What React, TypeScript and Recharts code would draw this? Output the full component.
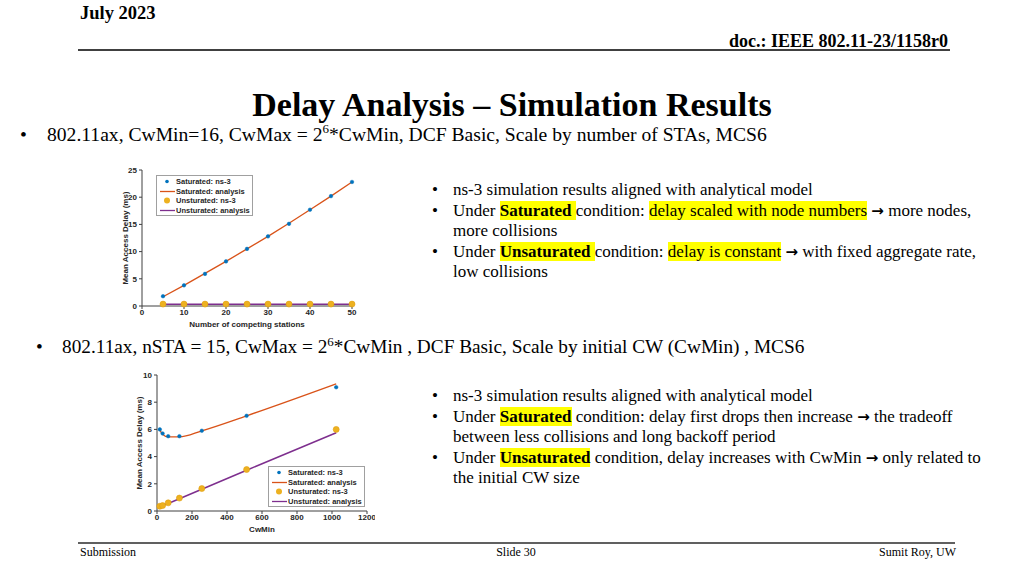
import React from "react";
import { LineChart, Line, XAxis, YAxis, Legend } from "recharts";

// chart 1: delay vs number of stations
const stations = [5, 10, 15, 20, 25, 30, 35, 40, 45, 50];
const satNs3ByStations = [1.8, 3.8, 5.9, 8.2, 10.5, 12.8, 15.1, 17.7, 20.2, 22.8];
const satAnaByStations = [1.7, 3.8, 6.0, 8.2, 10.5, 12.8, 15.2, 17.7, 20.2, 22.8];
const unsatNs3ByStations = [0.35, 0.35, 0.35, 0.35, 0.35, 0.35, 0.35, 0.35, 0.35, 0.35];
const unsatAnaByStations = [0.3, 0.3, 0.3, 0.3, 0.3, 0.3, 0.3, 0.3, 0.3, 0.3];
const stationTicks = [0, 10, 20, 30, 40, 50];
const delayTicks1 = [0, 5, 10, 15, 20, 25];

// chart 2: delay vs CwMin
const cwMinValues = [16, 32, 64, 128, 256, 512, 1024];
const satNs3ByCw = [6.0, 5.7, 5.5, 5.5, 5.9, 7.0, 9.1];
const satAnaByCw = [5.95, 5.65, 5.45, 5.45, 5.9, 7.0, 9.35];
const unsatNs3ByCw = [0.35, 0.4, 0.6, 0.95, 1.65, 3.05, 6.0];
const unsatAnaByCw = [0.3, 0.4, 0.55, 0.9, 1.6, 3.0, 5.75];
const cwTicks = [0, 200, 400, 600, 800, 1000, 1200];
const delayTicks2 = [0, 2, 4, 6, 8, 10];

const legendLabels = [
  "Saturated: ns-3",
  "Saturated: analysis",
  "Unsturated: ns-3",
  "Unsturated: analysis",
];

const BLUE = "#0072BD";
const ORANGE = "#D95319";
const YELLOW = "#EDB120";
const PURPLE = "#7E2F8E";
const AXIS = "#404040";
const sans = '"Liberation Sans", Arial, sans-serif';
const serif = '"Liberation Serif", "Times New Roman", serif';

const rows1 = stations.map((x, i) => ({
  x,
  satNs3: satNs3ByStations[i],
  satAna: satAnaByStations[i],
  unsatNs3: unsatNs3ByStations[i],
  unsatAna: unsatAnaByStations[i],
}));

const rows2 = cwMinValues.map((x, i) => ({
  x,
  satNs3: satNs3ByCw[i],
  satAna: satAnaByCw[i],
  unsatNs3: unsatNs3ByCw[i],
  unsatAna: unsatAnaByCw[i],
}));

const tickStyle = { fill: "#262626", fontSize: 8, fontWeight: "bold", fontFamily: sans };
const labelStyle = { fill: "#262626", fontSize: 8, fontWeight: "bold", fontFamily: sans, textAnchor: "middle" as const };

function LegendBox() {
  const marker = (i: number) => {
    if (i === 0) return <circle cx={9} cy={4.5} r={1.8} fill={BLUE} />;
    if (i === 2) return <circle cx={9} cy={4.5} r={3} fill={YELLOW} />;
    return <line x1={2} x2={17} y1={4.5} y2={4.5} stroke={i === 1 ? ORANGE : PURPLE} strokeWidth={1.3} />;
  };
  return (
    <div
      style={{
        width: 97,
        height: 41,
        boxSizing: "border-box",
        border: "1px solid #a0a0a0",
        background: "#fff",
        padding: "1px 0 0 1px",
        fontFamily: sans,
        fontSize: 7.5,
        fontWeight: "bold",
        color: "#262626",
      }}
    >
      {legendLabels.map((t, i) => (
        <div key={t} style={{ display: "flex", alignItems: "center", height: 9.6, whiteSpace: "nowrap" }}>
          <svg width={18} height={9} style={{ flex: "none" }}>
            {marker(i)}
          </svg>
          <span>{t}</span>
        </div>
      ))}
    </div>
  );
}

function DelayChart({
  data,
  xDomain,
  xTicks,
  yDomain,
  yTicks,
  xLabel,
  yLabelOffset,
  legendPos,
  smooth,
}: {
  data: typeof rows1;
  xDomain: [number, number];
  xTicks: number[];
  yDomain: [number, number];
  yTicks: number[];
  xLabel: string;
  yLabelOffset: number;
  legendPos: { left: number; top: number };
  smooth: boolean;
}) {
  const curve = smooth ? "monotone" : "linear";
  return (
    <LineChart width={250} height={170} data={data} margin={{ top: 8, right: 8, left: 0, bottom: 0 }}>
      <XAxis
        type="number"
        dataKey="x"
        domain={xDomain}
        ticks={xTicks}
        interval={0}
        tick={tickStyle}
        tickSize={3}
        tickMargin={0}
        stroke={AXIS}
        height={26}
        label={{ value: xLabel, position: "insideBottom", offset: 5, style: labelStyle }}
      />
      <YAxis
        type="number"
        domain={yDomain}
        ticks={yTicks}
        interval={0}
        tick={tickStyle}
        tickSize={3}
        stroke={AXIS}
        width={32}
        label={{
          value: "Mean  Access Delay (ms)",
          angle: -90,
          position: "insideLeft",
          offset: yLabelOffset,
          style: labelStyle,
        }}
      />
      <Legend
        layout="horizontal"
        verticalAlign="middle"
        align="center"
        wrapperStyle={{ left: legendPos.left, top: legendPos.top, width: 97 }}
        content={() => <LegendBox />}
      />
      <Line type={curve} dataKey="satAna" stroke={ORANGE} strokeWidth={1.3} dot={false} isAnimationActive={false} />
      <Line type="linear" dataKey="unsatAna" stroke={PURPLE} strokeWidth={1.5} dot={false} isAnimationActive={false} />
      <Line
        dataKey="satNs3"
        stroke="none"
        dot={{ r: 1.8, fill: BLUE, stroke: BLUE, strokeWidth: 0.5 }}
        isAnimationActive={false}
      />
      <Line
        dataKey="unsatNs3"
        stroke="none"
        dot={{ r: 3, fill: YELLOW, stroke: "#E0A010", strokeWidth: 0.6 }}
        isAnimationActive={false}
      />
    </LineChart>
  );
}

const hl = { background: "#FFFF00" };
const Arrow = () => (
  <span style={{ fontFamily: '"DejaVu Sans", sans-serif', fontWeight: "bold", fontSize: 15 }}>→</span>
);

function Bullets({ top, lines }: { top: number; lines: React.ReactNode[][] }) {
  return (
    <div style={{ position: "absolute", left: 432, top, fontFamily: serif, fontSize: 17, lineHeight: "20.5px", color: "#000" }}>
      {lines.map((l, i) => (
        <div key={i} style={{ position: "relative", paddingLeft: 21, whiteSpace: "nowrap" }}>
          <span style={{ position: "absolute", left: 0, top: 0 }}>•</span>
          {l.map((seg, j) => (
            <React.Fragment key={j}>
              {j > 0 && <br />}
              {seg}
            </React.Fragment>
          ))}
        </div>
      ))}
    </div>
  );
}

export default function App() {
  return (
    <div style={{ position: "absolute", left: 0, top: 0, width: 1024, height: 576, background: "#fff", overflow: "hidden", fontFamily: serif, color: "#000" }}>
      <div style={{ position: "absolute", left: 80, top: 4, fontSize: 18.5, lineHeight: "18px", fontWeight: "bold" }}>July 2023</div>
      <div style={{ position: "absolute", right: 1024 - 948, top: 32, fontSize: 18, lineHeight: "18px", fontWeight: "bold", whiteSpace: "nowrap" }}>
        doc.: IEEE 802.11-23/1158r0
      </div>
      <div style={{ position: "absolute", left: 78, top: 49, width: 872, height: 2, background: "#404040" }} />

      <div style={{ position: "absolute", left: 0, width: 1024, top: 88, textAlign: "center", fontSize: 34, lineHeight: "34px", fontWeight: "bold", whiteSpace: "nowrap" }}>
        Delay Analysis – Simulation Results
      </div>

      <div style={{ position: "absolute", left: 20, top: 125, fontSize: 19.6, lineHeight: "20px", whiteSpace: "nowrap" }}>
        <span style={{ display: "inline-block", width: 27 }}>•</span>
        802.11ax, CwMin=16, CwMax = 2<sup style={{ fontSize: 13, lineHeight: 0 }}>6</sup>*CwMin, DCF Basic, Scale by number of STAs, MCS6
      </div>

      <div style={{ position: "absolute", left: 36, top: 337, fontSize: 19.3, lineHeight: "20px", whiteSpace: "nowrap" }}>
        <span style={{ display: "inline-block", width: 26 }}>•</span>
        802.11ax, nSTA = 15, CwMax = 2<sup style={{ fontSize: 13, lineHeight: 0 }}>6</sup>*CwMin , DCF Basic, Scale by initial CW (CwMin) , MCS6
      </div>

      <div style={{ position: "absolute", left: 110, top: 162 }}>
        <DelayChart
          data={rows1}
          xDomain={[0, 50]}
          xTicks={stationTicks}
          yDomain={[0, 25]}
          yTicks={delayTicks1}
          xLabel="Number of competing stations"
          yLabelOffset={15}
          legendPos={{ left: 46, top: 13 }}
          smooth={false}
        />
      </div>

      <div style={{ position: "absolute", left: 125, top: 367 }}>
        <DelayChart
          data={rows2}
          xDomain={[0, 1200]}
          xTicks={cwTicks}
          yDomain={[0, 10]}
          yTicks={delayTicks2}
          xLabel="CwMin"
          yLabelOffset={14}
          legendPos={{ left: 143, top: 99 }}
          smooth={true}
        />
      </div>

      <Bullets
        top={180}
        lines={[
          ["ns-3 simulation results aligned with analytical model"],
          [
            <>Under <b style={hl}>Saturated </b>condition: <span style={hl}>delay scaled with node numbers</span> <Arrow /> more nodes,</>,
            "more collisions",
          ],
          [
            <>Under <b style={hl}>Unsaturated </b>condition: <span style={hl}>delay is constant</span> <Arrow /> with fixed aggregate rate,</>,
            "low collisions",
          ],
        ]}
      />

      <Bullets
        top={386}
        lines={[
          ["ns-3 simulation results aligned with analytical model"],
          [
            <>Under <b style={hl}>Saturated</b> condition: delay first drops then increase <Arrow /> the tradeoff</>,
            "between less collisions and long backoff period",
          ],
          [
            <>Under <b style={hl}>Unsaturated</b> condition, delay increases with CwMin <Arrow /> only related to</>,
            "the initial CW size",
          ],
        ]}
      />

      <div style={{ position: "absolute", left: 78, top: 542, width: 877, height: 2, background: "#606060" }} />
      <div style={{ position: "absolute", left: 80, top: 546, fontSize: 12, lineHeight: "12px" }}>Submission</div>
      <div style={{ position: "absolute", left: 416, width: 200, textAlign: "center", top: 546, fontSize: 12, lineHeight: "12px" }}>Slide 30</div>
      <div style={{ position: "absolute", right: 1024 - 956, top: 546, fontSize: 12, lineHeight: "12px", whiteSpace: "nowrap" }}>Sumit Roy, UW</div>
    </div>
  );
}
